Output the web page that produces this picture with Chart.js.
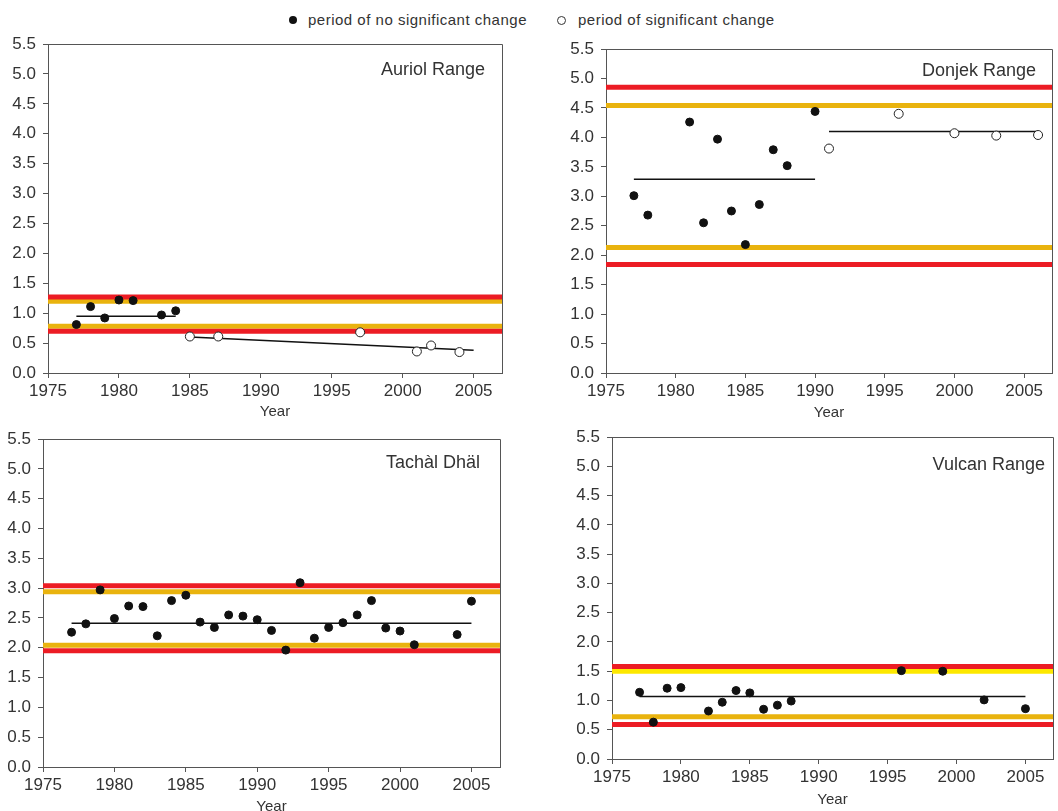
<!DOCTYPE html>
<html>
<head>
<meta charset="utf-8">
<script src="https://cdn.jsdelivr.net/npm/chart.js@4/dist/chart.umd.min.js"></script>
<style>
  body { margin: 0; width: 1058px; height: 811px; overflow: hidden; position: relative; background: #fff; font-family: "Liberation Sans", Arial, sans-serif; }
  .panel { position: absolute; }
  .lg-text { position: absolute; top: 11px; font-size: 15px; letter-spacing: 0.5px; color: #333; line-height: 18px; white-space: nowrap; }
  .lg-dot { position: absolute; border-radius: 50%; box-sizing: border-box; }
</style>
</head>
<body>

<div class="lg-dot" style="left:289px; top:16px; width:8px; height:8px; background:#111;"></div>
<div class="lg-text" style="left:308px;">period of no significant change</div>
<div class="lg-dot" style="left:557px; top:16px; width:9px; height:9px; border:1px solid #333; background:#fff;"></div>
<div class="lg-text" style="left:578px;">period of significant change</div>

<canvas id="auriol" class="panel" width="520" height="425" style="left:0; top:0;"></canvas>
<canvas id="donjek" class="panel" width="528" height="425" style="left:530px; top:0;"></canvas>
<canvas id="tachal" class="panel" width="520" height="425" style="left:0; top:420px;"></canvas>
<canvas id="vulcan" class="panel" width="528" height="425" style="left:530px; top:420px;"></canvas>

<script>
// Auriol Range
var auriolStableYears = [1977, 1978, 1979, 1980, 1981, 1983, 1984];
var auriolStableValues = [0.81, 1.11, 0.92, 1.22, 1.21, 0.97, 1.04];
var auriolChangeYears = [1985, 1987, 1997, 2001, 2002, 2004];
var auriolChangeValues = [0.61, 0.61, 0.68, 0.36, 0.46, 0.35];
var auriolTrendYears = [[1977, 1984], [1985, 2005]];
var auriolTrendValues = [[0.95, 0.95], [0.60, 0.38]];
var auriolRedLimits = [1.27, 0.70];
var auriolAmberLimits = [1.20, 0.78];

// Donjek Range
var donjekStableYears = [1977, 1978, 1981, 1982, 1983, 1984, 1985, 1986, 1987, 1988, 1990];
var donjekStableValues = [3.01, 2.68, 4.26, 2.55, 3.97, 2.75, 2.18, 2.86, 3.79, 3.52, 4.44];
var donjekChangeYears = [1991, 1996, 2000, 2003, 2006];
var donjekChangeValues = [3.81, 4.40, 4.07, 4.03, 4.04];
var donjekTrendYears = [[1977, 1990], [1991, 2006]];
var donjekTrendValues = [[3.29, 3.29], [4.10, 4.10]];
var donjekRedLimits = [4.85, 1.84];
var donjekAmberLimits = [4.54, 2.13];

// Tachàl Dhäl
var tachalStableYears = [1977, 1978, 1979, 1980, 1981, 1982, 1983, 1984, 1985, 1986, 1987, 1988, 1989, 1990,
                         1991, 1992, 1993, 1994, 1995, 1996, 1997, 1998, 1999, 2000, 2001, 2004, 2005];
var tachalStableValues = [2.26, 2.40, 2.97, 2.49, 2.70, 2.69, 2.20, 2.79, 2.88, 2.43, 2.34, 2.55, 2.53, 2.47,
                          2.29, 1.96, 3.09, 2.16, 2.34, 2.42, 2.55, 2.79, 2.33, 2.28, 2.05, 2.22, 2.78];
var tachalChangeYears = [];
var tachalChangeValues = [];
var tachalTrendYears = [[1977, 2005]];
var tachalTrendValues = [[2.41, 2.41]];
var tachalRedLimits = [3.04, 1.95];
var tachalAmberLimits = [2.94, 2.04];

// Vulcan Range
var vulcanStableYears = [1977, 1978, 1979, 1980, 1982, 1983, 1984, 1985, 1986, 1987, 1988, 1996, 1999, 2002, 2005];
var vulcanStableValues = [1.14, 0.63, 1.21, 1.22, 0.82, 0.97, 1.17, 1.13, 0.85, 0.92, 0.99, 1.51, 1.50, 1.01, 0.86];
var vulcanChangeYears = [];
var vulcanChangeValues = [];
var vulcanTrendYears = [[1977, 2005]];
var vulcanTrendValues = [[1.07, 1.07]];
var vulcanRedLimits = [1.58, 0.59];
var vulcanAmberLimits = [1.50, 0.72];

var xMin = 1975, xMax = 2007;
var FONT = '"Liberation Sans", Arial, sans-serif';
var RED = '#ec1c24';
var AMBER = '#e9b30e';
var AXIS = '#555';

function pts(xs, ys) {
    return xs.map(function (x, i) { return { x: x, y: ys[i] }; });
}

// frame (top/right border) and panel name
var panelFrame = {
    id: 'panelFrame',
    afterDraw: function (chart, args, opts) {
        var ctx = chart.ctx, a = chart.chartArea;
        ctx.save();
        ctx.strokeStyle = AXIS;
        ctx.lineWidth = 1;
        ctx.beginPath();
        ctx.moveTo(a.left, Math.round(a.top) + 0.5);
        ctx.lineTo(Math.round(a.right) + 0.5, Math.round(a.top) + 0.5);
        ctx.lineTo(Math.round(a.right) + 0.5, a.bottom);
        ctx.stroke();
        ctx.fillStyle = '#333';
        ctx.font = '18px ' + FONT;
        ctx.textAlign = 'right';
        ctx.textBaseline = 'middle';
        ctx.fillText(opts.text, a.right - opts.dx, a.top + opts.dy);
        ctx.restore();
    }
};

function makePanel(id, p) {
    var datasets = [];
    datasets.push({
        data: pts(p.stableYears, p.stableValues),
        pointRadius: 4, pointBackgroundColor: '#111', pointBorderColor: '#111', pointBorderWidth: 1,
        showLine: false, order: 1
    });
    datasets.push({
        data: pts(p.changeYears, p.changeValues),
        pointRadius: 4.5, pointBackgroundColor: '#fff', pointBorderColor: '#222', pointBorderWidth: 1,
        showLine: false, order: 1
    });
    p.trendYears.forEach(function (ty, i) {
        datasets.push({
            data: pts(ty, p.trendValues[i]),
            showLine: true, borderColor: '#111', borderWidth: 1.5, pointRadius: 0, order: 2
        });
    });
    p.redLimits.forEach(function (v) {
        datasets.push({
            data: pts([xMin, xMax], [v, v]),
            showLine: true, borderColor: RED, borderWidth: 5, pointRadius: 0, order: 3
        });
    });
    p.amberLimits.forEach(function (v, i) {
        datasets.push({
            data: pts([xMin, xMax], [v, v]),
            showLine: true, borderColor: (p.amberColors && p.amberColors[i]) || AMBER, borderWidth: 5, pointRadius: 0, order: 3
        });
    });

    return new Chart(document.getElementById(id), {
        type: 'scatter',
        data: { datasets: datasets },
        plugins: [panelFrame],
        options: {
            responsive: false,
            animation: false,
            layout: { padding: { top: p.pt, right: p.pr, left: 0, bottom: 0 } },
            plugins: {
                legend: { display: false },
                tooltip: { enabled: false },
                panelFrame: { text: p.name, dx: p.dx, dy: p.dy }
            },
            scales: {
                x: {
                    type: 'linear', min: xMin, max: xMax,
                    afterFit: function (s) { s.height = p.xh; },
                    border: { display: true, color: AXIS, width: 1 },
                    grid: { drawOnChartArea: false, drawTicks: true, tickLength: 5, color: AXIS },
                    ticks: {
                        stepSize: 5, includeBounds: false, padding: 3, color: '#333', maxRotation: 0,
                        font: { family: FONT, size: 17 },
                        callback: function (v) { return String(v); }
                    },
                    title: {
                        display: true, text: 'Year', color: '#333',
                        font: { family: FONT, size: 15 }, padding: { top: 0, bottom: p.tb }
                    }
                },
                y: {
                    min: 0, max: 5.5,
                    afterFit: function (s) { s.width = p.yw; },
                    border: { display: true, color: AXIS, width: 1 },
                    grid: { drawOnChartArea: false, drawTicks: true, tickLength: 5, color: AXIS },
                    ticks: {
                        stepSize: 0.5, padding: 7, color: '#333',
                        font: { family: FONT, size: 17 },
                        callback: function (v) { return v.toFixed(1); }
                    }
                }
            }
        }
    });
}

makePanel('auriol', {
    name: 'Auriol Range', dx: 17, dy: 26,
    stableYears: auriolStableYears, stableValues: auriolStableValues,
    changeYears: auriolChangeYears, changeValues: auriolChangeValues,
    trendYears: auriolTrendYears, trendValues: auriolTrendValues,
    redLimits: auriolRedLimits, amberLimits: auriolAmberLimits,
    yw: 48, pr: 18, pt: 44, xh: 52, tb: 4
});

makePanel('donjek', {
    name: 'Donjek Range', dx: 16, dy: 22,
    stableYears: donjekStableYears, stableValues: donjekStableValues,
    changeYears: donjekChangeYears, changeValues: donjekChangeValues,
    trendYears: donjekTrendYears, trendValues: donjekTrendValues,
    redLimits: donjekRedLimits, amberLimits: donjekAmberLimits,
    yw: 76, pr: 6, pt: 49, xh: 52, tb: 3
});

makePanel('tachal', {
    name: 'Tachàl Dhäl', dx: 20, dy: 24,
    stableYears: tachalStableYears, stableValues: tachalStableValues,
    changeYears: tachalChangeYears, changeValues: tachalChangeValues,
    trendYears: tachalTrendYears, trendValues: tachalTrendValues,
    redLimits: tachalRedLimits, amberLimits: tachalAmberLimits,
    yw: 43, pr: 20, pt: 19, xh: 78, tb: 29
});

makePanel('vulcan', {
    name: 'Vulcan Range', dx: 8, dy: 28,
    stableYears: vulcanStableYears, stableValues: vulcanStableValues,
    changeYears: vulcanChangeYears, changeValues: vulcanChangeValues,
    trendYears: vulcanTrendYears, trendValues: vulcanTrendValues,
    redLimits: vulcanRedLimits, amberLimits: vulcanAmberLimits,
    amberColors: ['#fde800', AMBER],
    yw: 82, pr: 3, pt: 17, xh: 86, tb: 36
});
</script>
</body>
</html>
